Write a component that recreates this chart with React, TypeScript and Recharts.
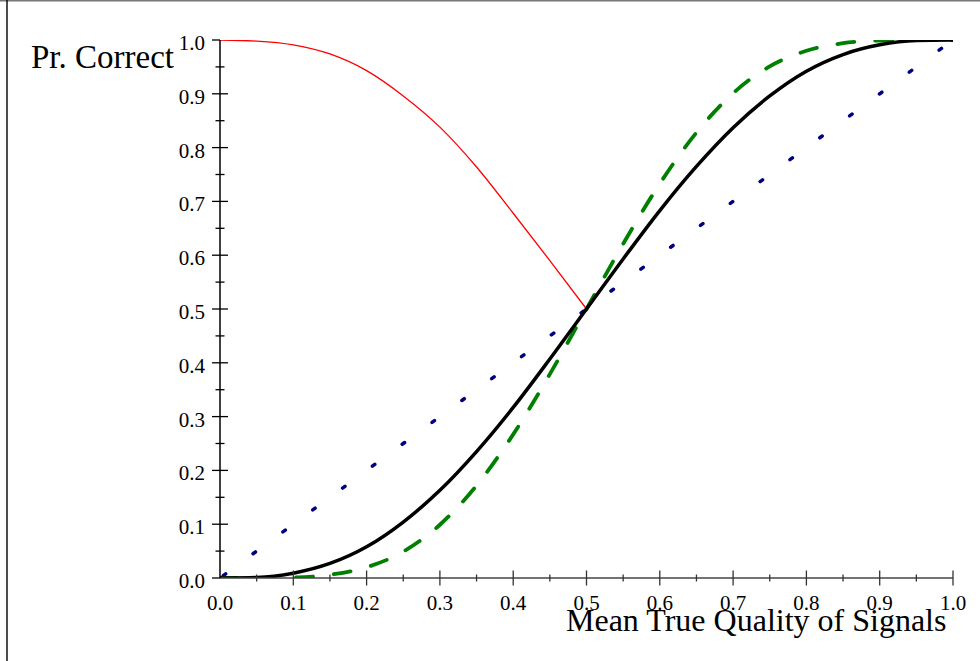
import React from 'react';
import { LineChart, Line, XAxis, YAxis } from 'recharts';

const xValues = [0, 0.05, 0.1, 0.15, 0.2, 0.25, 0.3, 0.35, 0.4, 0.45, 0.5, 0.55, 0.6, 0.65, 0.7, 0.75, 0.8, 0.85, 0.9, 0.95, 1.0];
const redValues = [1.0, 0.998, 0.991, 0.974, 0.943, 0.896, 0.838, 0.764, 0.678, 0.59, 0.5];
const blackValues = [0, 0.001, 0.009, 0.027, 0.058, 0.104, 0.163, 0.235, 0.317, 0.407, 0.5, 0.593, 0.683, 0.765, 0.837, 0.896, 0.942, 0.973, 0.991, 0.999, 1.0];
const greenValues = [0, 0.0, 0.001, 0.006, 0.02, 0.049, 0.099, 0.172, 0.267, 0.379, 0.5, 0.621, 0.733, 0.828, 0.901, 0.951, 0.98, 0.994, 0.999, 1.0, 1.0];
const blueValues = [0, 0.05, 0.1, 0.15, 0.2, 0.25, 0.3, 0.35, 0.4, 0.45, 0.5, 0.55, 0.6, 0.65, 0.7, 0.75, 0.8, 0.85, 0.9, 0.95, 1.0];

const xTickValues = [0, 0.05, 0.1, 0.15, 0.2, 0.25, 0.3, 0.35, 0.4, 0.45, 0.5, 0.55, 0.6, 0.65, 0.7, 0.75, 0.8, 0.85, 0.9, 0.95, 1.0];
const yTickValues = [0, 0.05, 0.1, 0.15, 0.2, 0.25, 0.3, 0.35, 0.4, 0.45, 0.5, 0.55, 0.6, 0.65, 0.7, 0.75, 0.8, 0.85, 0.9, 0.95, 1.0];
const xTickLabels = ['0.0', '0.1', '0.2', '0.3', '0.4', '0.5', '0.6', '0.7', '0.8', '0.9', '1.0'];
const yTickLabels = ['0.0', '0.1', '0.2', '0.3', '0.4', '0.5', '0.6', '0.7', '0.8', '0.9', '1.0'];

const data = xValues.map((x, i) => ({
  x,
  red: i < redValues.length ? redValues[i] : null,
  black: blackValues[i],
  green: greenValues[i],
  blue: blueValues[i],
}));

const FONT = "'Liberation Serif', 'Times New Roman', serif";

const XTick = (props: any) => {
  const { x, y, payload } = props;
  const idx = Math.round(payload.value * 20);
  const major = idx % 2 === 0;
  const len = major ? 7.5 : 3.5;
  return (
    <g>
      {idx !== 0 && (
        <line x1={x} x2={x} y1={y - len} y2={y + len} stroke="#333" strokeWidth={1.3} />
      )}
      {major && (
        <text x={x} y={y + 32} textAnchor="middle" fontFamily={FONT} fontSize={21} fill="#000">
          {xTickLabels[idx / 2]}
        </text>
      )}
    </g>
  );
};

const YTick = (props: any) => {
  const { x, y, payload } = props;
  const idx = Math.round(payload.value * 20);
  const major = idx % 2 === 0;
  const len = major ? 8 : 4.5;
  const right = idx === 20 || idx === 0 ? 0 : len;
  return (
    <g>
      <line x1={x - len} x2={x + right} y1={y} y2={y} stroke="#000" strokeWidth={1.3} />
      {major && (
        <text x={x - 15} y={y + 10} textAnchor="end" fontFamily={FONT} fontSize={21} fill="#000">
          {yTickLabels[idx / 2]}
        </text>
      )}
    </g>
  );
};

export default function App() {
  return (
    <div style={{ position: 'absolute', left: 0, top: 0, width: 980, height: 661, background: '#fff' }}>
      <LineChart
        width={980}
        height={661}
        data={data}
        margin={{ top: 40, right: 27, bottom: 43, left: 160 }}
      >
        <XAxis
          type="number"
          dataKey="x"
          domain={[0, 1]}
          ticks={xTickValues}
          interval={0}
          height={40}
          tickSize={0}
          tickMargin={0}
          tickLine={false}
          axisLine={{ stroke: '#444', strokeWidth: 1.5 }}
          tick={<XTick />}
          allowDataOverflow
        />
        <YAxis
          type="number"
          domain={[0, 1]}
          ticks={yTickValues}
          interval={0}
          width={60}
          tickSize={0}
          tickMargin={0}
          tickLine={false}
          axisLine={{ stroke: '#000', strokeWidth: 1.5 }}
          tick={<YTick />}
          allowDataOverflow
        />
        <Line type="monotone" dataKey="red" stroke="#ff0000" strokeWidth={1.3} dot={false} activeDot={false} isAnimationActive={false} />
        <Line type="linear" dataKey="blue" stroke="#000080" strokeWidth={3.5} strokeDasharray="3 34" strokeDashoffset={-4} strokeLinecap="round" dot={false} activeDot={false} isAnimationActive={false} />
        <Line type="monotone" dataKey="green" stroke="#008000" strokeWidth={3.8} strokeDasharray="17 21" strokeLinecap="round" dot={false} activeDot={false} isAnimationActive={false} />
        <Line type="monotone" dataKey="black" stroke="#000" strokeWidth={3.5} dot={false} activeDot={false} isAnimationActive={false} />
      </LineChart>
      <svg width={980} height={661} style={{ position: 'absolute', left: 0, top: 0, pointerEvents: 'none' }}>
        <line x1={0} x2={980} y1={0.8} y2={0.8} stroke="#777" strokeWidth={1.6} />
        <line x1={7} x2={7} y1={0} y2={661} stroke="#000" strokeWidth={1.4} />
        <text x={31} y={68} fontFamily={FONT} fontSize={33} fill="#000">Pr. Correct</text>
        <text x={566} y={631} fontFamily={FONT} fontSize={32} fill="#000">Mean True Quality of Signals</text>
      </svg>
    </div>
  );
}
